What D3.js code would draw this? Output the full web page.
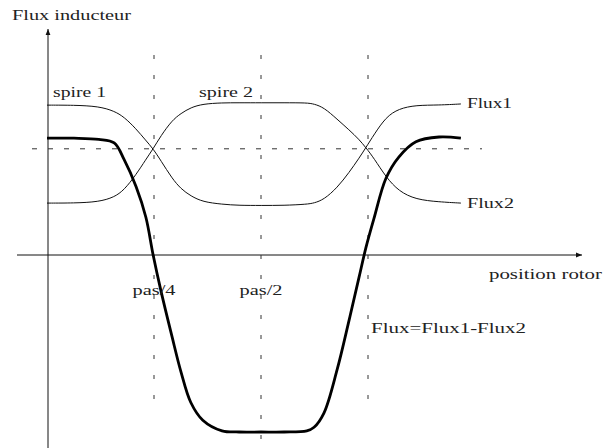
<!DOCTYPE html>
<html>
<head>
<meta charset="utf-8">
<script src="https://cdn.jsdelivr.net/npm/d3@7"></script>
<style>
  body { margin: 0; background: #fff; }
</style>
</head>
<body>
<div id="chart"></div>
<script>
// position rotor, en fraction de pas
var positions = [0, 0.063, 0.121, 0.157, 0.180, 0.208, 0.231, 0.248, 0.266, 0.292,
                 0.313, 0.336, 0.364, 0.409, 0.449, 0.5, 0.554, 0.607, 0.624, 0.647,
                 0.678, 0.706, 0.729, 0.745, 0.764, 0.792, 0.822, 0.862, 0.916, 0.967];
var flux1 = [1.27, 1.27, 1.26, 1.22, 1.17, 1.07, 0.97, 0.90, 0.80, 0.65,
             0.56, 0.50, 0.45, 0.43, 0.42, 0.42, 0.42, 0.43, 0.44, 0.47,
             0.57, 0.70, 0.82, 0.91, 1.02, 1.17, 1.24, 1.27, 1.27, 1.28];
var flux2 = [0.44, 0.44, 0.45, 0.49, 0.55, 0.68, 0.81, 0.90, 1.01, 1.14,
             1.20, 1.25, 1.28, 1.29, 1.29, 1.29, 1.29, 1.29, 1.28, 1.25,
             1.15, 1.06, 0.98, 0.91, 0.82, 0.66, 0.54, 0.47, 0.45, 0.44];
var flux = [0.99, 0.99, 0.98, 0.95, 0.81, 0.58, 0.32, 0.00, -0.30, -0.69,
            -0.99, -1.25, -1.40, -1.49, -1.50, -1.50, -1.50, -1.49, -1.46, -1.34,
            -0.97, -0.55, -0.19, 0.06, 0.31, 0.65, 0.83, 0.96, 1.00, 0.99];
var repères = [0.25, 0.5, 0.75];
var repèreLabels = ["pas/4", "pas/2", ""];
var niveauCroisement = 0.90;

var width = 603, height = 448;
var police = '"Liberation Serif", "Times New Roman", Times, "DejaVu Serif", serif';

var x = d3.scaleLinear().domain([0, 1]).range([47, 475]);
var y = d3.scaleLinear().domain([0, 1]).range([255, 137]);

var svg = d3.select("#chart").append("svg")
    .attr("width", width)
    .attr("height", height);

svg.append("rect").attr("width", width).attr("height", height).attr("fill", "#fff");

var defs = svg.append("defs");
defs.append("marker")
    .attr("id", "fleche")
    .attr("viewBox", "0 0 10 10")
    .attr("refX", 10).attr("refY", 5)
    .attr("markerWidth", 6).attr("markerHeight", 6)
    .attr("markerUnits", "userSpaceOnUse")
    .attr("orient", "auto")
    .append("path")
    .attr("d", "M0,1L10,5L0,9Z")
    .attr("fill", "#111");

// axes
svg.append("line")
    .attr("x1", x(0) + 1).attr("y1", height)
    .attr("x2", x(0) + 1).attr("y2", 29)
    .attr("stroke", "#111").attr("stroke-width", 1)
    .attr("marker-end", "url(#fleche)");
svg.append("line")
    .attr("x1", 17).attr("y1", y(0))
    .attr("x2", 582).attr("y2", y(0))
    .attr("stroke", "#111").attr("stroke-width", 1)
    .attr("marker-end", "url(#fleche)");

// pointillés
svg.append("line")
    .attr("x1", 32).attr("x2", 482)
    .attr("y1", y(niveauCroisement)).attr("y2", y(niveauCroisement))
    .attr("stroke", "#333").attr("stroke-width", 1)
    .attr("stroke-dasharray", "5,11");

svg.selectAll(".repere")
    .data(repères)
    .enter().append("line")
    .attr("class", "repere")
    .attr("x1", function (d) { return x(d); })
    .attr("x2", function (d) { return x(d); })
    .attr("y1", 55)
    .attr("y2", function (d) { return d === 0.5 ? height : 410; })
    .attr("stroke", "#333").attr("stroke-width", 1)
    .attr("stroke-dasharray", "4,16");

// courbes
function serie(vals) {
    return positions.map(function (p, i) { return [p, vals[i]]; });
}
var lineFine = d3.line()
    .x(function (d) { return x(d[0]); })
    .y(function (d) { return y(d[1]); })
    .curve(d3.curveBasis);
var lineEpaisse = d3.line()
    .x(function (d) { return x(d[0]); })
    .y(function (d) { return y(d[1]); })
    .curve(d3.curveCatmullRom.alpha(0.5));

svg.append("path").datum(serie(flux1))
    .attr("d", lineFine).attr("fill", "none")
    .attr("stroke", "#111").attr("stroke-width", 1);
svg.append("path").datum(serie(flux2))
    .attr("d", lineFine).attr("fill", "none")
    .attr("stroke", "#111").attr("stroke-width", 1);
svg.append("path").datum(serie(flux))
    .attr("d", lineEpaisse).attr("fill", "none")
    .attr("stroke", "#000").attr("stroke-width", 2.8)
    .attr("stroke-linejoin", "round");

// textes
var labels = [
    {t: "Flux inducteur", x: 12, y: 20, w: 119},
    {t: "spire 1", x: 53, y: 97, w: 53},
    {t: "spire 2", x: 199, y: 97, w: 54},
    {t: "Flux1", x: 467, y: 108, w: 45},
    {t: "Flux2", x: 467, y: 208, w: 47},
    {t: "position rotor", x: 489, y: 279, w: 113},
    {t: "Flux=Flux1-Flux2", x: 371, y: 333, w: 155}
];
svg.selectAll(".lbl")
    .data(labels)
    .enter().append("text")
    .attr("class", "lbl")
    .attr("x", function (d) { return d.x; })
    .attr("y", function (d) { return d.y; })
    .attr("textLength", function (d) { return d.w; })
    .attr("lengthAdjust", "spacingAndGlyphs")
    .style("font-family", police)
    .style("font-size", "15px")
    .style("fill", "#222")
    .text(function (d) { return d.t; });

svg.selectAll(".pas")
    .data(repères.filter(function (d, i) { return repèreLabels[i]; }))
    .enter().append("text")
    .attr("class", "pas")
    .attr("x", function (d) { return x(d); })
    .attr("y", 295)
    .attr("text-anchor", "middle")
    .attr("textLength", 43)
    .attr("lengthAdjust", "spacingAndGlyphs")
    .style("font-family", police)
    .style("font-size", "15px")
    .style("fill", "#222")
    .text(function (d, i) { return repèreLabels[i]; });
</script>
</body>
</html>
